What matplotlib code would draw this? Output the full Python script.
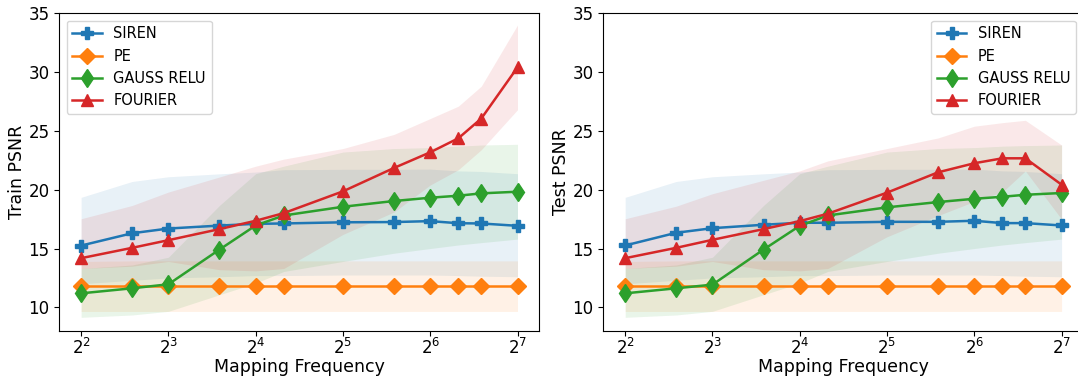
#%%
import numpy as np
import matplotlib
matplotlib.use('Agg')
import matplotlib.pyplot as plt

#%%
freqs = [4, 6, 8, 12, 16, 20, 32, 48, 64, 80, 96, 128]
labels = ['SIREN', 'PE', 'GAUSS RELU', 'FOURIER']

# train psnr (mean, lower, upper)
siren_train = [15.25, 16.3, 16.7, 16.95, 17.1, 17.13, 17.23, 17.25, 17.33, 17.15, 17.13, 16.93]
siren_train_lo = [12.0, 12.3, 12.5, 12.6, 12.7, 12.7, 12.75, 12.75, 12.75, 12.7, 12.65, 12.6]
siren_train_hi = [19.35, 20.7, 21.1, 21.35, 21.5, 21.7, 21.73, 21.73, 21.75, 21.6, 21.55, 21.36]

pe_train = [11.8, 11.8, 11.8, 11.8, 11.8, 11.8, 11.8, 11.8, 11.8, 11.8, 11.8, 11.8]
pe_train_lo = [9.65, 9.65, 9.65, 9.65, 9.65, 9.65, 9.65, 9.65, 9.65, 9.65, 9.65, 9.65]
pe_train_hi = [13.9, 13.95, 13.95, 13.95, 13.95, 13.95, 13.95, 13.95, 13.95, 13.95, 13.95, 13.95]

gauss_train = [11.19, 11.62, 11.96, 14.91, 16.96, 17.81, 18.55, 19.04, 19.32, 19.49, 19.69, 19.83]
gauss_train_lo = [9.15, 9.35, 9.66, 11.07, 12.06, 13.05, 13.9, 14.6, 15.0, 15.3, 15.5, 15.8]
gauss_train_hi = [13.3, 13.6, 14.26, 18.66, 21.36, 22.0, 23.2, 23.5, 23.58, 23.7, 23.8, 23.86]

fourier_train = [14.18, 15.06, 15.71, 16.65, 17.36, 18.01, 19.86, 21.85, 23.18, 24.37, 26.05, 30.4]
fourier_train_lo = [13.3, 13.5, 13.9, 13.2, 13.1, 13.3, 16.2, 18.1, 20.4, 21.7, 23.4, 26.8]
fourier_train_hi = [17.53, 18.66, 19.8, 21.08, 22.0, 22.6, 23.5, 24.7, 26.05, 27.1, 28.8, 34.0]

# test psnr (mean, lower, upper)
siren_test = [15.26, 16.34, 16.73, 17.02, 17.19, 17.19, 17.27, 17.27, 17.36, 17.16, 17.16, 16.96]
siren_test_lo = siren_train_lo
siren_test_hi = siren_train_hi

pe_test = pe_train
pe_test_lo = pe_train_lo
pe_test_hi = pe_train_hi

gauss_test = [11.19, 11.62, 11.93, 14.91, 16.93, 17.81, 18.5, 18.95, 19.23, 19.4, 19.57, 19.72]
gauss_test_lo = gauss_train_lo
gauss_test_hi = [13.3, 13.6, 14.26, 18.66, 21.36, 22.0, 23.2, 23.5, 23.58, 23.7, 23.75, 23.8]

fourier_test = [14.18, 15.06, 15.74, 16.65, 17.33, 17.96, 19.75, 21.48, 22.25, 22.67, 22.67, 20.43]
fourier_test_lo = [13.3, 13.5, 13.9, 13.2, 13.1, 13.3, 16.0, 17.8, 19.0, 19.8, 21.6, 17.5]
fourier_test_hi = [17.53, 18.6, 19.66, 20.8, 21.6, 22.45, 23.5, 24.4, 25.4, 25.7, 25.9, 23.8]

#%%
colors = ['#1f77b4', '#ff7f0e', '#2ca02c', '#d62728']
markers = ['P', 'D', 'd', '^']
msizes = [8.5, 8.5, 9.5, 8.5]

train = [(siren_train, siren_train_lo, siren_train_hi),
         (pe_train, pe_train_lo, pe_train_hi),
         (gauss_train, gauss_train_lo, gauss_train_hi),
         (fourier_train, fourier_train_lo, fourier_train_hi)]
test = [(siren_test, siren_test_lo, siren_test_hi),
        (pe_test, pe_test_lo, pe_test_hi),
        (gauss_test, gauss_test_lo, gauss_test_hi),
        (fourier_test, fourier_test_lo, fourier_test_hi)]

fig = plt.figure(figsize=(10.78, 3.79), dpi=100)
ax1 = fig.add_axes([0.055, 0.127, 0.4453, 0.838])
ax2 = fig.add_axes([0.5597, 0.127, 0.4453, 0.838])


def draw(ax, runs, ylabel, loc):
    for i, (m, lo, hi) in enumerate(runs):
        ax.fill_between(freqs, lo, hi, color=colors[i], alpha=0.1, lw=0)
        ax.plot(freqs, m, color=colors[i], marker=markers[i], ms=msizes[i],
                lw=1.8, label=labels[i])
    ax.set_xscale('log', base=2)
    ax.set_ylim(8, 35)
    ax.set_yticks([10, 15, 20, 25, 30, 35])
    ax.tick_params(labelsize=12)
    ax.tick_params(axis='x', pad=1.5)
    ax.set_xlabel('Mapping Frequency', fontsize=12.5, labelpad=0)
    ax.set_ylabel(ylabel, fontsize=12.5, labelpad=2)
    ax.legend(loc=loc, fontsize=10.5)


draw(ax1, train, 'Train PSNR', 'upper left')
draw(ax2, test, 'Test PSNR', 'upper right')

plt.savefig('out.png', dpi=100)
